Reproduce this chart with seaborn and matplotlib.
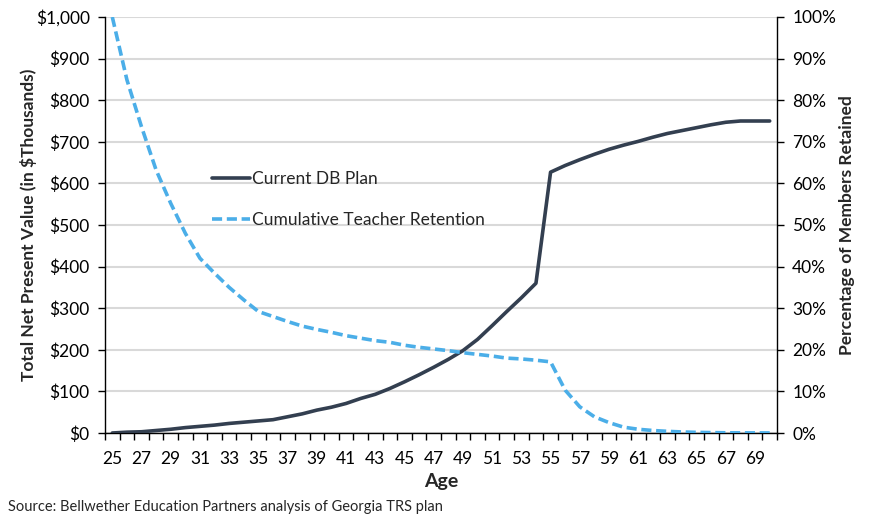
import matplotlib
matplotlib.use("Agg")
import matplotlib.pyplot as plt
import matplotlib.ticker as mticker
from matplotlib.lines import Line2D
import seaborn as sns
import pandas as pd
import numpy as np

ages = list(range(25, 71))
db_plan = [0, 2, 3, 6, 9, 13, 16, 19, 23, 26, 29, 32, 39, 46, 55, 62, 71, 83, 93, 107,
           123, 140, 158, 177, 198, 225, 258, 292, 325, 360, 627, 643, 657, 670, 682, 692,
           701, 711, 720, 727, 734, 741, 747, 750, 750, 750]
retention = [100, 84.9, 73.6, 63.2, 55.2, 48.0, 42.0, 38.4, 35.0, 32.0, 29.2, 28.0, 26.8, 25.7,
             24.9, 24.2, 23.4, 22.8, 22.2, 21.8, 21.1, 20.6, 20.2, 19.8, 19.3, 18.9, 18.5, 18.0,
             17.8, 17.5, 17.1, 10.3, 6.3, 3.9, 2.5, 1.4, 0.9, 0.6, 0.4, 0.25, 0.15, 0.1, 0.05,
             0.03, 0.02, 0.01]
left_ticks = [0, 100, 200, 300, 400, 500, 600, 700, 800, 900, 1000]
right_ticks = [0, 10, 20, 30, 40, 50, 60, 70, 80, 90, 100]
x_labels = list(range(25, 70, 2))

db_color = "#333F50"
ret_color = "#4BAEE8"

sns.set_theme(style="white")
plt.rcParams["font.family"] = ["Lato", "DejaVu Sans"]

df = pd.DataFrame({"Age": ages, "DB": db_plan, "Retention": retention})

fig = plt.figure(figsize=(8.72, 5.2), dpi=100)
ax = fig.add_axes([105 / 872, 1 - 433 / 520, (777 - 105) / 872, (433 - 17) / 520])
ax2 = ax.twinx()

sns.lineplot(data=df, x="Age", y="DB", ax=ax, color=db_color, linewidth=2.6, zorder=3)
sns.lineplot(data=df, x="Age", y="Retention", ax=ax2, color=ret_color, linewidth=2.6,
             dashes=False, zorder=3)
for ln in ax2.get_lines():
    ln.set_dashes((2.8, 1.3))

ax.set_xlim(24.5, 70.5)
ax.set_ylim(0, 1000)
ax2.set_ylim(0, 100)

ax.set_yticks(left_ticks)
ax.yaxis.set_major_formatter(mticker.FuncFormatter(lambda v, p: f"${int(v):,}"))
ax2.set_yticks(right_ticks)
ax2.yaxis.set_major_formatter(mticker.FuncFormatter(lambda v, p: f"{int(v)}%"))

ax.set_xticks(x_labels)
ax.set_xticks(np.arange(24.5, 71, 1), minor=True)
ax.tick_params(axis="x", which="major", length=0, pad=13, labelsize=12.5, colors="black")
ax.tick_params(axis="x", which="minor", length=5, width=1, direction="out", bottom=True,
               color="black")
ax.tick_params(axis="y", which="major", length=5, width=1, direction="out", left=True,
               labelsize=12.5, pad=6, colors="black")
ax2.tick_params(axis="y", which="major", length=5, width=1, direction="out", right=True,
                labelsize=12.5, pad=6, colors="black")

ax.yaxis.grid(True, color="#D9D9D9", linewidth=1.5, zorder=0)
ax.set_axisbelow(True)

for a in (ax, ax2):
    a.spines["top"].set_visible(False)
    for s in ("left", "right", "bottom"):
        a.spines[s].set_color("black")
        a.spines[s].set_linewidth(1.0)
ax.spines["right"].set_visible(False)
ax2.spines["left"].set_visible(False)
ax2.spines["bottom"].set_visible(False)

ax.set_xlabel("Age", fontsize=14, fontweight="bold", labelpad=4)
ax.set_ylabel("Total Net Present Value (in $Thousands)", fontsize=12.5, fontweight="bold",
              labelpad=-1)
ax2.set_ylabel("Percentage of Members Retained", fontsize=12.5, fontweight="bold", labelpad=2)

handles = [Line2D([0], [0], color=db_color, linewidth=2.6),
           Line2D([0], [0], color=ret_color, linewidth=2.6, dashes=(2.8, 1.3))]
leg = fig.legend(handles, ["Current DB Plan", "Cumulative Teacher Retention"],
                 loc="upper left", bbox_to_anchor=(196 / 872, 1 - 155 / 520), frameon=False,
                 fontsize=12.5, handlelength=2.2, handletextpad=0.1, labelspacing=1.45)

fig.text(8 / 872, 1 - 507 / 520, "Source: Bellwether Education Partners analysis of Georgia TRS plan",
         fontsize=10.5, va="center", ha="left")

fig.savefig("out.png", dpi=100)
